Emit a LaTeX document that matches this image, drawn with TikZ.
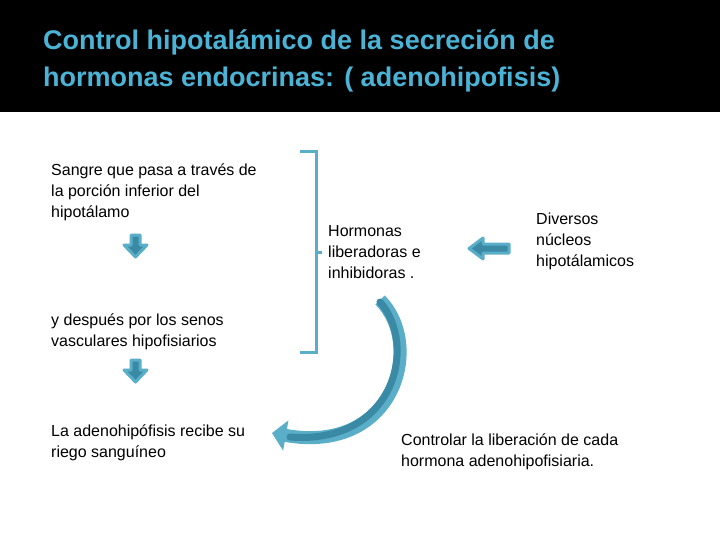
\documentclass[tikz,border=0pt]{standalone}
\usepackage{fontspec}
\setmainfont{Liberation Sans}
\usetikzlibrary{arrows.meta}
\definecolor{tb}{HTML}{4BB3D6}
\definecolor{lb}{HTML}{5AAEC8}
\definecolor{db}{HTML}{3A8AA6}
\begin{document}
\begin{tikzpicture}[x=1pt,y=-1pt,
  txt/.style={anchor=north west,align=left,font=\fontsize{16}{21}\selectfont,inner sep=0},
  barrow/.style={fill=db,draw=lb,line width=3pt,line join=round}]
\useasboundingbox (0,0) rectangle (720,540);
\fill[black] (0,0) rectangle (720,112);
\node[anchor=north west,align=left,text=tb,font=\fontsize{27}{36}\selectfont\bfseries,inner sep=0] (title) at (43,30) {Control hipotalámico de la secreción de\\hormonas endocrinas: ( adenohipofisis)};
\node[txt] (t1) at (51,164) {Sangre que pasa a través de\\la porción inferior del\\hipotálamo};
\node[txt] (t2) at (51,314) {y después por los senos\\vasculares hipofisiarios};
\node[txt] (t3) at (51,425) {La adenohipófisis recibe su\\riego sanguíneo};
\node[txt] (t4) at (328,225) {Hormonas\\liberadoras e\\inhibidoras .};
\node[txt] (t5) at (536,213) {Diversos\\núcleos\\hipotálamicos};
\node[txt] (t6) at (401,434) {Controlar la liberación de cada\\hormona adenohipofisiaria.};
% down arrows
\foreach \y in {235,360}{
  \draw[barrow] (131,\y) -- (140,\y) -- (140,\y+10) -- (147,\y+10) -- (135.5,\y+22) -- (124,\y+10) -- (131,\y+10) -- cycle;}
% left arrow
\draw[barrow] (509,244) -- (509,253) -- (483,253) -- (483,259) -- (469,248.5) -- (483,238) -- (483,244) -- cycle;
% bracket
\draw[lb,line width=3pt] (300,152) -- (316,152) -- (316,352) -- (300,352);
\draw[lb,line width=3pt] (316,252) -- (322,252);
% curved arrow
\coordinate (cs) at (380,300);
\coordinate (ce) at (272,433);
\draw[lb,line width=13pt,-{Triangle[length=14pt,width=30pt]}] (cs) .. controls (425,345) and (395,455) .. (ce);
\draw[db,line width=7pt,line cap=round] (380,302) .. controls (418,345) and (395,445) .. (290,437);
\end{tikzpicture}
\end{document}
